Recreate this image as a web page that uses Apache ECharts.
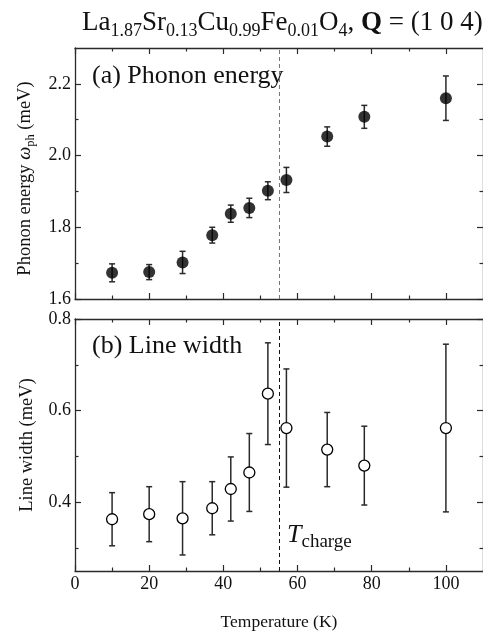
<!DOCTYPE html>
<html>
<head>
<meta charset="utf-8">
<script src="https://cdn.jsdelivr.net/npm/echarts@6/dist/echarts.min.js"></script>
<style>
  html, body { margin: 0; padding: 0; background: #fff; }
  #chart { width: 483px; height: 632px; }
</style>
</head>
<body>
<div id="chart"></div>
<script>
// Measured temperatures (K)
const temps = [10, 20, 29, 37, 42, 47, 52, 57, 68, 78, 100];

// (a) phonon energy and its error (meV)
const phononEnergy    = [1.673, 1.675, 1.702, 1.778, 1.838, 1.854, 1.902, 1.932, 2.053, 2.108, 2.160];
const phononEnergyErr = [0.025, 0.021, 0.031, 0.022, 0.024, 0.027, 0.025, 0.035, 0.027, 0.032, 0.062];

// (b) line width and its error (meV)
const lineWidth    = [0.363, 0.374, 0.365, 0.387, 0.429, 0.465, 0.637, 0.562, 0.515, 0.480, 0.562];
const lineWidthErr = [0.058, 0.060, 0.080, 0.058, 0.070, 0.085, 0.111, 0.129, 0.081, 0.086, 0.183];

// Charge-ordering temperature
const tCharge = 55;

// Tick positions
const tempTicks        = [0, 20, 40, 60, 80, 100];
const tempMinorTicks   = [10, 30, 50, 70, 90];
const energyTicks      = [1.6, 1.8, 2.0, 2.2];
const energyMinorTicks = [1.7, 1.9, 2.1];
const widthTicks       = [0.4, 0.6, 0.8];
const widthMinorTicks  = [0.3, 0.5, 0.7];

const SERIF = '"Liberation Serif", "Times New Roman", "DejaVu Serif", serif';
const AXIS_COLOR = '#2a2a2a';
const TEMP_RANGE = [0, 110];
const ENERGY_RANGE = [1.6, 2.3];
const WIDTH_RANGE = [0.25, 0.8];

function makeAxis(opts) {
  return {
    type: 'value',
    gridIndex: opts.grid,
    position: opts.position,
    min: opts.range[0],
    max: opts.range[1],
    axisLine: { show: opts.line !== false, onZero: false, lineStyle: { color: AXIS_COLOR, width: 1.3 } },
    axisTick: {
      show: true, inside: true, length: opts.tickLen,
      customValues: opts.ticks,
      lineStyle: { color: AXIS_COLOR, width: 1.2 }
    },
    axisLabel: opts.labels ? {
      show: true, customValues: opts.ticks, margin: 4,
      fontFamily: SERIF, fontSize: 18, color: '#111',
      formatter: opts.formatter
    } : { show: false },
    splitLine: { show: false },
    name: opts.name || '',
    nameLocation: 'middle',
    nameGap: opts.nameGap || 0,
    nameRotate: opts.nameRotate,
    nameTextStyle: opts.nameTextStyle
  };
}

const xAxes = [];
const yAxes = [];
[0, 1].forEach(function (g) {
  // bottom and top temperature axes (major + minor ticks)
  xAxes.push(makeAxis({ grid: g, position: 'bottom', range: TEMP_RANGE, ticks: tempTicks, tickLen: 6,
    labels: g === 1, formatter: function (v) { return String(v); },
    name: g === 1 ? 'Temperature (K)' : '', nameGap: 42,
    nameTextStyle: { fontFamily: SERIF, fontSize: 17.5, color: '#111' } }));
  xAxes.push(makeAxis({ grid: g, position: 'bottom', range: TEMP_RANGE, ticks: tempMinorTicks, tickLen: 3.5, line: false }));
  xAxes.push(makeAxis({ grid: g, position: 'top', range: TEMP_RANGE, ticks: tempTicks, tickLen: 6 }));
  xAxes.push(makeAxis({ grid: g, position: 'top', range: TEMP_RANGE, ticks: tempMinorTicks, tickLen: 3.5, line: false }));

  const range = g === 0 ? ENERGY_RANGE : WIDTH_RANGE;
  const major = g === 0 ? energyTicks : widthTicks;
  const minor = g === 0 ? energyMinorTicks : widthMinorTicks;
  yAxes.push(makeAxis({ grid: g, position: 'left', range: range, ticks: major, tickLen: 6, labels: true,
    formatter: function (v) { return v.toFixed(1); },
    name: g === 0 ? '{m|Phonon energy }{w|ω}{s|ph}{m| (meV)}' : '{m|Line width (meV)}',
    nameGap: g === 0 ? 35 : 38, nameRotate: 90,
    nameTextStyle: {
      color: '#111',
      padding: g === 0 ? [0, 10, 0, 0] : 0,
      rich: {
        m: { fontFamily: SERIF, fontSize: 18.5, color: '#111' },
        w: { fontFamily: SERIF, fontSize: 18.5, fontStyle: 'italic', color: '#111' },
        s: { fontFamily: SERIF, fontSize: 12.5, color: '#111', padding: [12, 0, 0, 0] }
      }
    } }));
  yAxes.push(makeAxis({ grid: g, position: 'left', range: range, ticks: minor, tickLen: 3.5, line: false }));
  yAxes.push(makeAxis({ grid: g, position: 'right', range: range, ticks: major, tickLen: 6 }));
  yAxes.push(makeAxis({ grid: g, position: 'right', range: range, ticks: minor, tickLen: 3.5, line: false }));
});

function errorBarData(values, errs) {
  return temps.map(function (t, i) { return [t, values[i] - errs[i], values[i] + errs[i]]; });
}

function renderErrorBar(params, api) {
  const x = api.value(0);
  const lo = api.coord([x, api.value(1)]);
  const hi = api.coord([x, api.value(2)]);
  const cap = 3;
  const style = { stroke: '#2a2a2a', lineWidth: 1.5 };
  return {
    type: 'group',
    children: [
      { type: 'line', shape: { x1: lo[0], y1: lo[1], x2: hi[0], y2: hi[1] }, style: style },
      { type: 'line', shape: { x1: lo[0] - cap, y1: lo[1], x2: lo[0] + cap, y2: lo[1] }, style: style },
      { type: 'line', shape: { x1: hi[0] - cap, y1: hi[1], x2: hi[0] + cap, y2: hi[1] }, style: style }
    ]
  };
}

function pairs(values) {
  return temps.map(function (t, i) { return [t, values[i]]; });
}

function chargeLine(color) {
  return {
    silent: true,
    symbol: ['none', 'none'],
    label: { show: false },
    lineStyle: { type: [4, 3], color: color, width: 1 },
    data: [{ xAxis: tCharge }]
  };
}

const option = {
  animation: false,
  backgroundColor: '#fff',
  title: {
    left: 82, top: 6, padding: 0,
    text: '{m|La}{s|1.87}{m|Sr}{s|0.13}{m|Cu}{s|0.99}{m|Fe}{s|0.01}{m|O}{s|4}{m|, }{b|Q}{m| = (1 0 4)}',
    textStyle: {
      fontWeight: 'normal',
      rich: {
        m: { fontFamily: SERIF, fontSize: 27, fontWeight: 'normal', color: '#111' },
        b: { fontFamily: SERIF, fontSize: 27, fontWeight: 'bold', color: '#111' },
        s: { fontFamily: SERIF, fontSize: 18, fontWeight: 'normal', color: '#111', padding: [16, 0, 0, 0] }
      }
    }
  },
  grid: [
    { left: 75, right: -2, top: 48, height: 251 },
    { left: 75, right: -2, top: 319, height: 252 }
  ],
  xAxis: xAxes,
  yAxis: yAxes,
  graphic: [
    { type: 'text', left: 92, top: 63, silent: true,
      style: { text: '(a) Phonon energy', font: '26px ' + SERIF, fill: '#111' } },
    { type: 'text', left: 92, top: 333, silent: true,
      style: { text: '(b) Line width', font: '26px ' + SERIF, fill: '#111' } },
    { type: 'text', left: 287, top: 522, silent: true,
      style: {
        text: '{t|T}{c|charge}',
        rich: {
          t: { fontFamily: SERIF, fontSize: 26, fontStyle: 'italic', fill: '#111' },
          c: { fontFamily: SERIF, fontSize: 19, fill: '#111', padding: [15, 0, 0, 0] }
        }
      } }
  ],
  series: [
    {
      type: 'custom', xAxisIndex: 0, yAxisIndex: 0, z: 2,
      renderItem: renderErrorBar,
      encode: { x: 0, y: [1, 2] },
      data: errorBarData(phononEnergy, phononEnergyErr)
    },
    {
      type: 'scatter', xAxisIndex: 0, yAxisIndex: 0, z: 3,
      symbol: 'circle', symbolSize: 12,
      itemStyle: { color: '#000' },
      data: pairs(phononEnergy),
      markLine: chargeLine('#777')
    },
    {
      type: 'custom', xAxisIndex: 4, yAxisIndex: 4, z: 2,
      renderItem: renderErrorBar,
      encode: { x: 0, y: [1, 2] },
      data: errorBarData(lineWidth, lineWidthErr)
    },
    {
      type: 'scatter', xAxisIndex: 4, yAxisIndex: 4, z: 3,
      symbol: 'circle', symbolSize: 11,
      itemStyle: { color: '#fff', borderColor: '#000', borderWidth: 1.3, opacity: 1 },
      data: pairs(lineWidth),
      markLine: chargeLine('#111')
    }
  ]
};

const chart = echarts.init(document.getElementById('chart'), null, { renderer: 'canvas' });
chart.setOption(option);
</script>
</body>
</html>
